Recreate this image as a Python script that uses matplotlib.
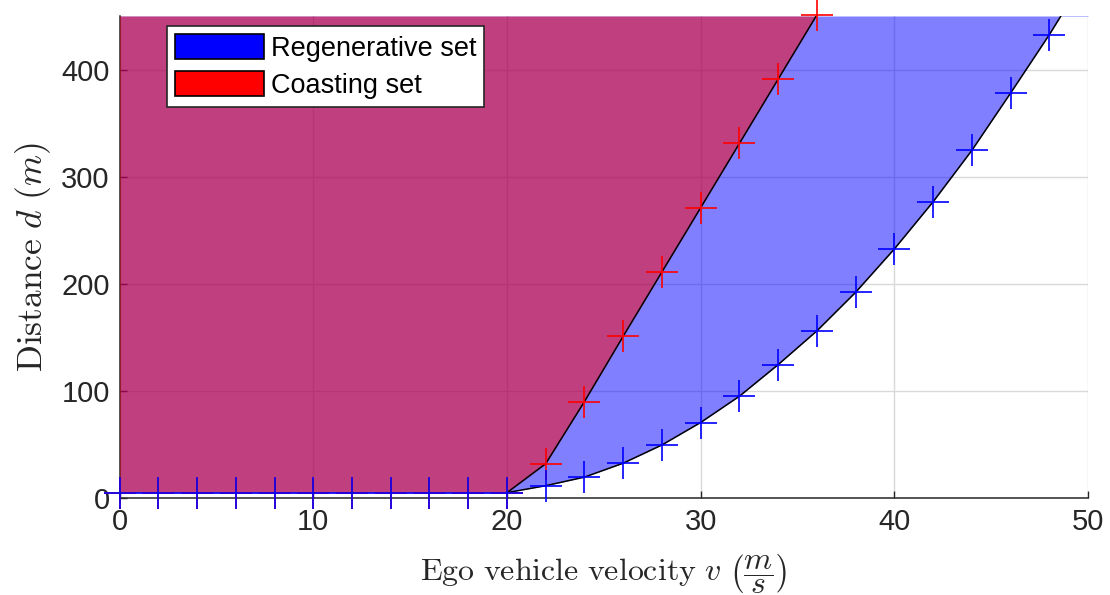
import matplotlib
matplotlib.use("Agg")
import matplotlib.pyplot as plt
from matplotlib.patches import Patch
import numpy as np

plt.rcParams['font.family'] = ['Liberation Sans', 'DejaVu Sans']
plt.rcParams['mathtext.fontset'] = 'cm'

# regenerative set boundary (min distance vs. velocity)
v_regen = [0, 2, 4, 6, 8, 10, 12, 14, 16, 18, 20, 22, 24, 26, 28, 30, 32, 34, 36, 38, 40, 42, 44, 46, 48, 50]
d_regen = [5, 5, 5, 5, 5, 5, 5, 5, 5, 5, 5, 11.5, 19.5, 32.5, 49.5, 70.5, 95, 124.5, 156, 192, 232.5, 276.5, 324.5, 378, 432.5, 491]

# coasting set boundary
v_coast = [0, 2, 4, 6, 8, 10, 12, 14, 16, 18, 20, 22, 24, 26, 28, 30, 32, 34, 36]
d_coast = [5, 5, 5, 5, 5, 5, 5, 5, 5, 5, 5, 32, 90, 151, 211, 271, 331, 391, 451]

d_max = 450
x_ticks = [0, 10, 20, 30, 40, 50]
y_ticks = [0, 100, 200, 300, 400]

dark = (0.15, 0.15, 0.15)

fig = plt.figure(figsize=(11.1, 5.95), dpi=100)
ax = fig.add_axes([0.1077, 0.163, 0.8725, 0.8101])

ax.fill_between(v_regen, d_regen, d_max, color=(0, 0, 1), alpha=0.5, linewidth=0, zorder=2)
ax.fill_between(v_coast, d_coast, d_max, color=(1, 0, 0), alpha=0.5, linewidth=0, zorder=3)

# black boundary lines past the constant part
ax.plot(v_regen[10:], d_regen[10:], color='k', lw=1.1, zorder=4)
ax.plot(v_coast[10:], d_coast[10:], color='k', lw=1.1, zorder=4)
ax.plot(v_regen[:11], d_regen[:11], color='b', lw=1.2, zorder=4)

ms = 22.5
ax.plot(v_coast, d_coast, '+', color='r', ms=ms, mew=1.2, clip_on=False, zorder=5)
ax.plot(v_regen[:-1], d_regen[:-1], '+', color='b', ms=ms, mew=1.2, clip_on=False, zorder=6)

ax.set_xlim(0, 50)
ax.set_ylim(0, d_max)
ax.set_xticks(x_ticks)
ax.set_yticks(y_ticks)
ax.grid(True, color=(0.85, 0.85, 0.85), lw=1, zorder=1)
ax.set_axisbelow(True)
ax.spines['top'].set_visible(False)
ax.spines['right'].set_visible(False)
for s in ['left', 'bottom']:
    ax.spines[s].set_color(dark)
    ax.spines[s].set_linewidth(1.1)
ax.tick_params(direction='in', length=5, width=1, colors=dark,
               labelsize=21, pad=7)

ax.set_xlabel(r"$\mathrm{Ego\ vehicle\ velocity}\ v\ \left(\dfrac{m}{s}\right)$",
              fontsize=23, color=dark, labelpad=12)
ax.set_ylabel(r"$\mathrm{Distance}\ d\ (m)$", fontsize=25.5, color=dark, labelpad=6)

handles = [Patch(facecolor=(0, 0, 1), edgecolor='k', lw=1.2),
           Patch(facecolor=(1, 0, 0), edgecolor='k', lw=1.2)]
leg = ax.legend(handles, ['Regenerative set', 'Coasting set'], loc='upper left',
                bbox_to_anchor=(0.0485, 0.98), borderaxespad=0, fontsize=19.5,
                handlelength=3.3, handleheight=1.05, handletextpad=0.25,
                labelspacing=0.35, borderpad=0.3, fancybox=False, framealpha=1)
leg.get_frame().set_edgecolor(dark)
leg.get_frame().set_linewidth(1.2)
leg.set_zorder(10)

fig.savefig('out.png', dpi=100)
